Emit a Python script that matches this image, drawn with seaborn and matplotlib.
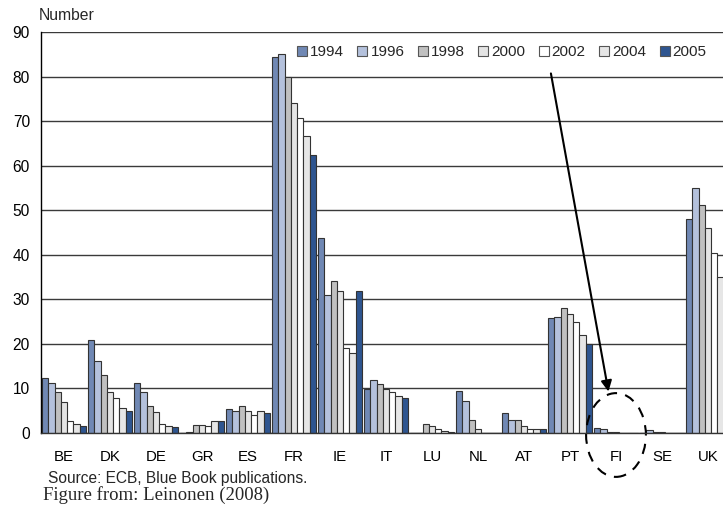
import numpy as np
import pandas as pd
import matplotlib
matplotlib.use("Agg")
import matplotlib.pyplot as plt
import seaborn as sns
from matplotlib.patches import Ellipse, Patch

countries = ["BE", "DK", "DE", "GR", "ES", "FR", "IE", "IT", "LU", "NL", "AT", "PT", "FI", "SE", "UK"]
years = ["1994", "1996", "1998", "2000", "2002", "2004", "2005"]
v1994 = [12.3, 20.8, 11.2, 0.0, 5.4, 84.4, 43.7, 9.9, 0.0, 9.4, 4.5, 25.9, 1.1, 0.0, 48.1]
v1996 = [11.2, 16.2, 9.1, 0.3, 4.9, 85.0, 30.9, 12.0, 0.0, 7.1, 3.0, 26.0, 1.0, 0.6, 55.0]
v1998 = [9.1, 13.1, 6.1, 1.7, 6.0, 80.0, 34.1, 11.1, 2.1, 3.0, 3.0, 28.0, 0.3, 0.3, 51.1]
v2000 = [6.9, 9.1, 4.8, 1.7, 4.9, 74.1, 31.8, 9.8, 1.5, 0.8, 1.5, 26.7, 0.2, 0.2, 46.1]
v2002 = [2.8, 7.8, 2.0, 1.6, 4.1, 70.8, 19.1, 9.3, 0.8, 0.0, 0.8, 24.9, 0.1, 0.1, 40.4]
v2004 = [2.0, 5.7, 1.5, 2.6, 5.0, 66.6, 17.9, 8.4, 0.4, 0.0, 0.8, 21.9, 0.1, 0.1, 35.0]
v2005 = [1.6, 4.9, 1.3, 2.6, 4.5, 62.5, 31.9, 7.9, 0.2, 0.0, 0.8, 19.9, 0.1, 0.1, 32.2]
series = [v1994, v1996, v1998, v2000, v2002, v2004, v2005]
colors = ["#7088B4", "#B4C1DC", "#C0C0C0", "#E4E4E4", "#FFFFFF", "#E6E6E6", "#2E5590"]

rows = []
for y, vals in zip(years, series):
    for c, v in zip(countries, vals):
        rows.append({"country": c, "year": y, "value": v})
df = pd.DataFrame(rows)

sns.set_style("white")
plt.rcParams["font.family"] = ["Liberation Sans", "DejaVu Sans"]

W, H = 723, 512
fig = plt.figure(figsize=(W / 100, H / 100), dpi=100)
ax = fig.add_axes([41 / W, 79 / H, 690 / W, 401 / H])

sns.barplot(data=df, x="country", y="value", hue="year", order=countries,
            hue_order=years, palette=colors, width=0.955, saturation=1,
            edgecolor="#333333", linewidth=0.8, ax=ax, legend=False)

ax.set_xlim(-0.5, len(countries) - 0.5)
ax.set_ylim(0, 90)
ax.set_yticks(range(0, 91, 10))
ax.yaxis.grid(True, color="#3a3a3a", lw=1.0)
ax.set_axisbelow(True)
ax.set_xlabel("")
ax.set_ylabel("")
for s in ["top", "right"]:
    ax.spines[s].set_visible(False)
ax.spines["left"].set_color("black")
ax.spines["bottom"].set_color("#333333")
ax.spines["left"].set_linewidth(1.0)
ax.spines["bottom"].set_linewidth(1.0)

ax.tick_params(axis="y", length=0, pad=8, labelsize=11.2, colors="black")
ax.tick_params(axis="x", which="major", length=0, pad=12, labelsize=10.8, colors="black")
ax.set_xticks(np.arange(-0.5, len(countries), 1.0), minor=True)
ax.tick_params(axis="x", which="minor", length=5, width=1, color="#333333", direction="out")

handles = [Patch(facecolor=c, edgecolor="#555555", linewidth=0.8) for c in colors]
ax.legend(handles, years, ncol=7, loc="center left", bbox_to_anchor=(0.371, 0.949),
          frameon=False, fontsize=11, handlelength=0.65, handleheight=0.65,
          handletextpad=0.2, columnspacing=0.88, borderpad=0, borderaxespad=0)

# annotation arrow and dashed ellipse around FI
ax.annotate("", xy=(11.836, 9.3), xytext=(10.585, 80.7),
            arrowprops=dict(arrowstyle="-|>", color="black", lw=1.5,
                            mutation_scale=16, shrinkA=0, shrinkB=0))
ell = Ellipse((12.0, -0.45), 1.30, 18.8, fill=False, edgecolor="black",
              linestyle=(0, (5, 4)), lw=1.5, clip_on=False)
ax.add_patch(ell)

fig.text(39 / W, 1 - 16 / H, "Number", fontsize=11.3, va="center", ha="left")
fig.text(48 / W, 1 - 479 / H, "Source: ECB, Blue Book publications.", fontsize=11.2,
         va="center", ha="left")
fig.text(43 / W, 1 - 495 / H, "Figure from: Leinonen (2008)", fontsize=13.5,
         va="center", ha="left", family=["Liberation Serif", "DejaVu Serif"])

fig.savefig("out.png", dpi=100)
